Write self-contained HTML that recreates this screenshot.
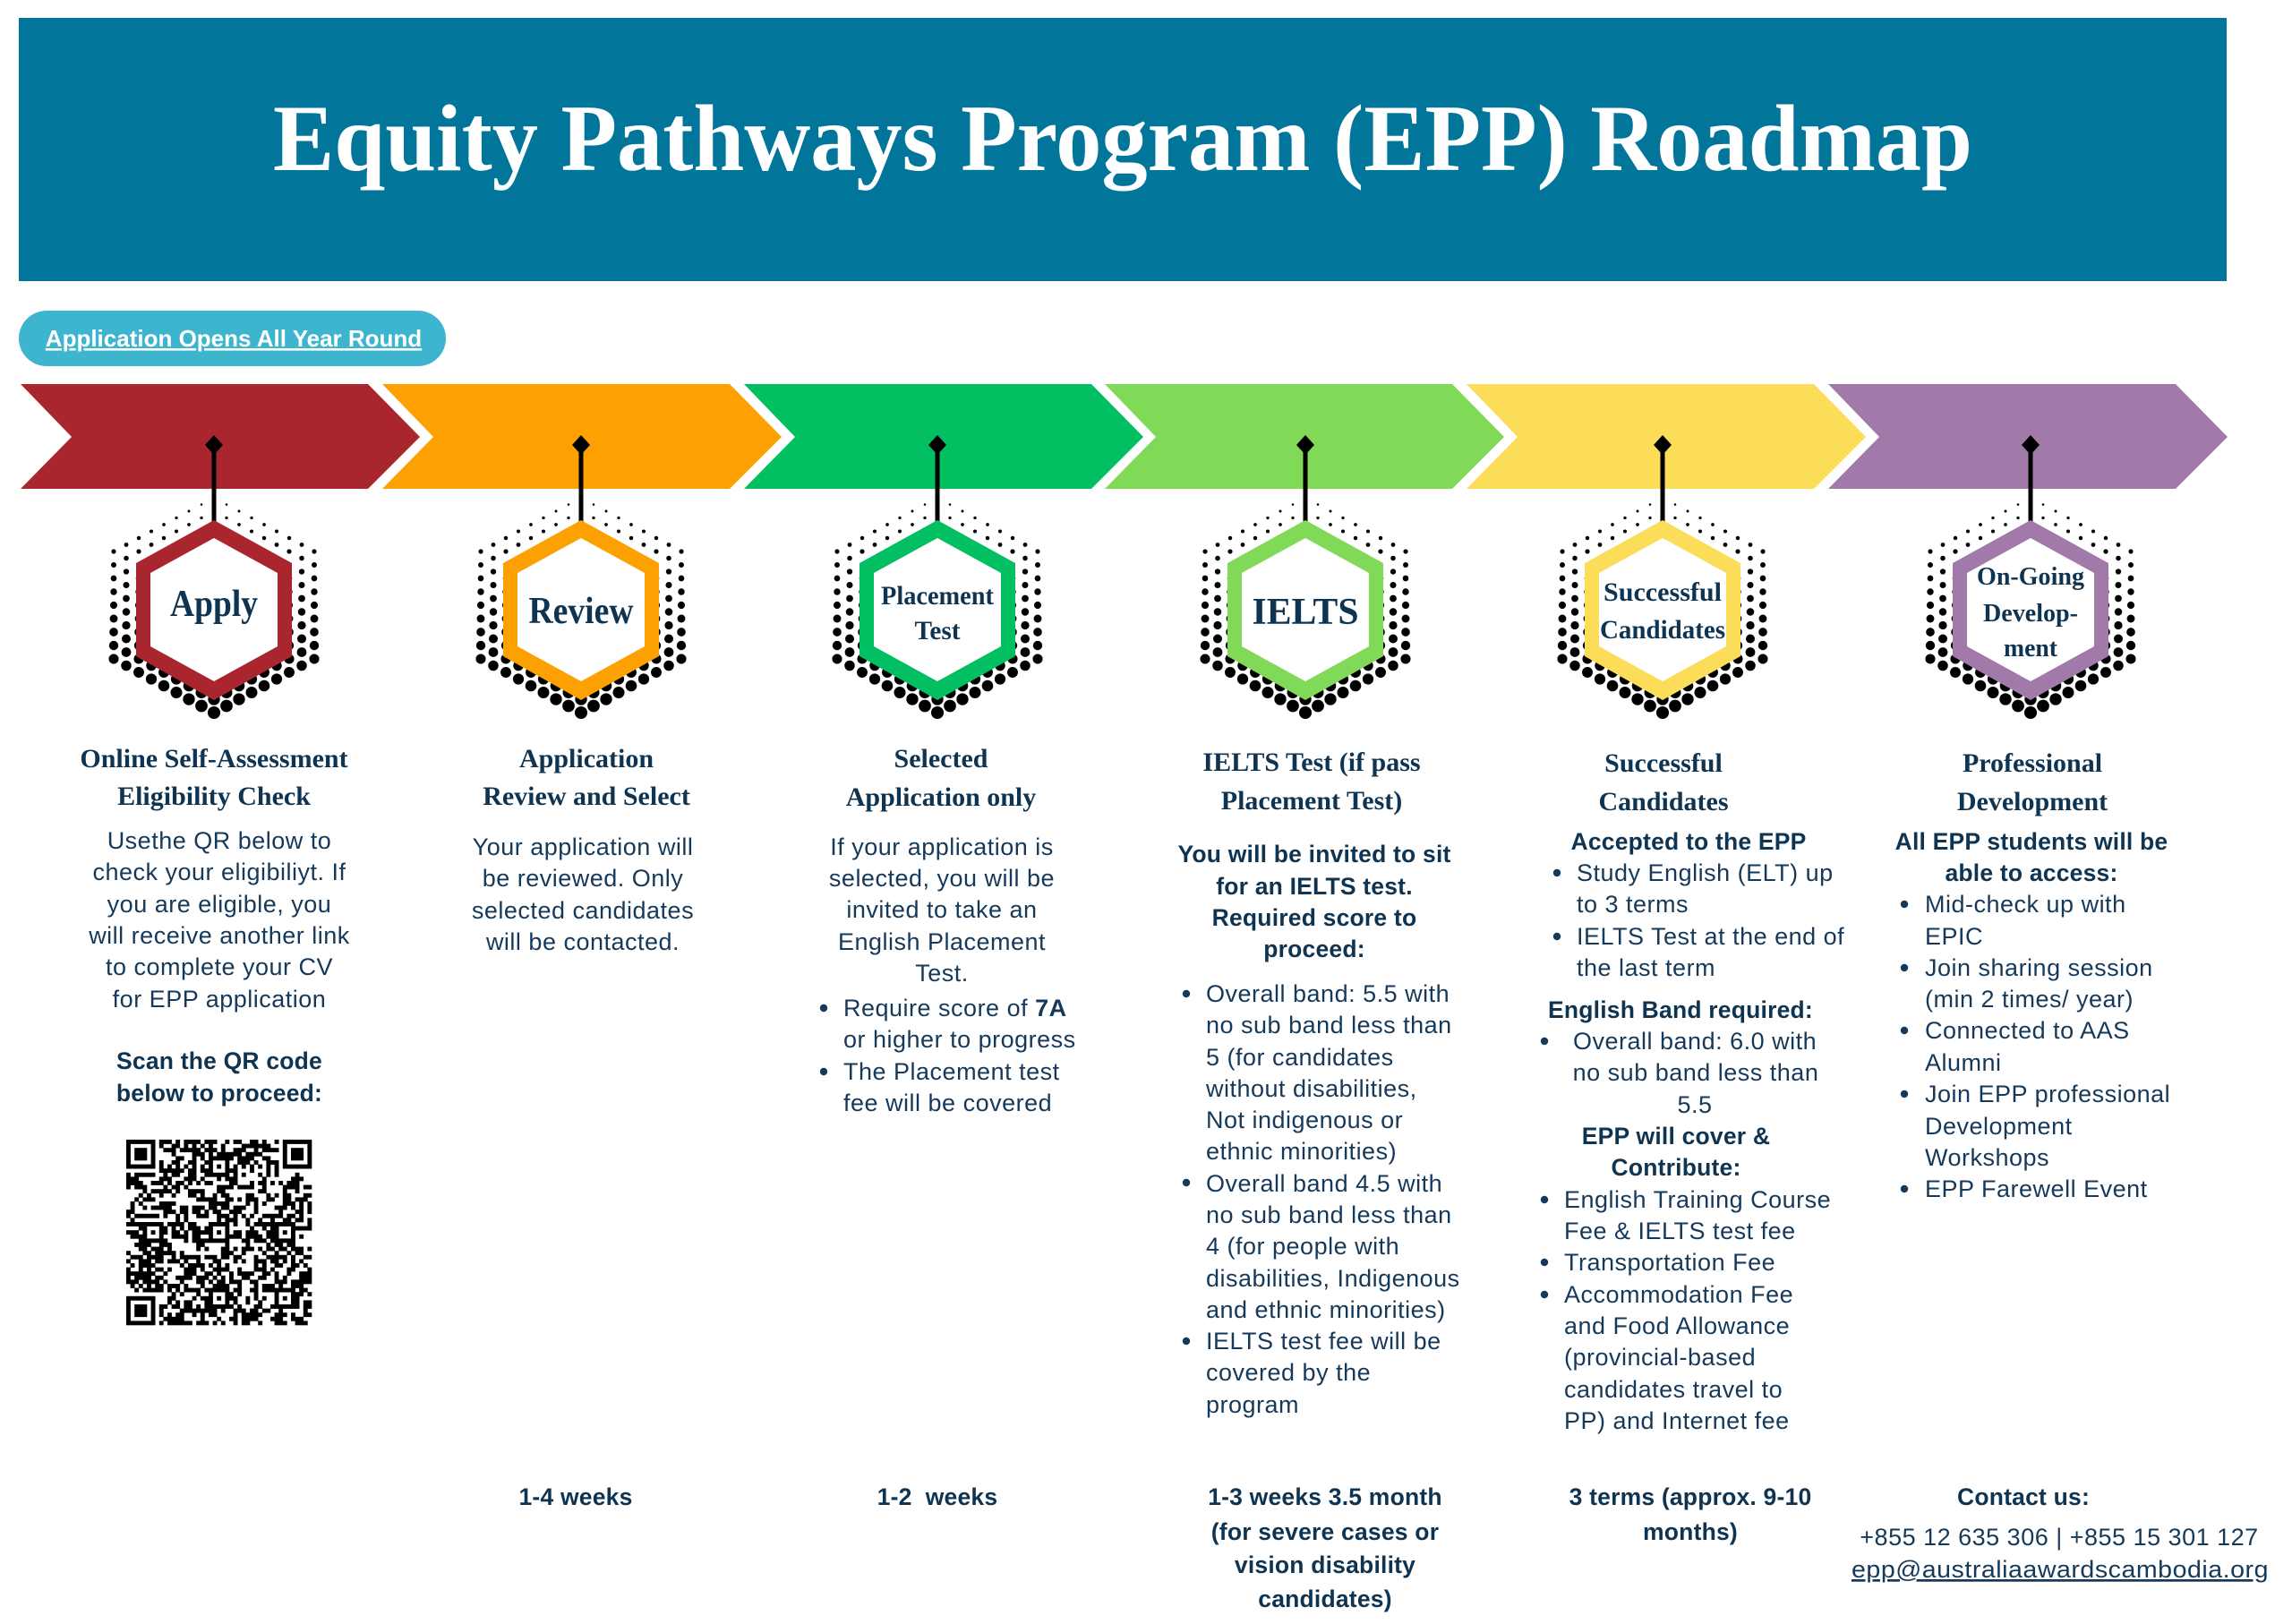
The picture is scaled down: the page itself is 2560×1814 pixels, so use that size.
<!DOCTYPE html>
<html><head><meta charset="utf-8"><title>EPP Roadmap</title>
<style>
html,body{margin:0;padding:0;background:#fff;}
svg{display:block;}
.h{font-family:"Liberation Serif",serif;font-weight:bold;font-size:30px;fill:#0e3452;text-anchor:middle;}
.hx{font-family:"Liberation Serif",serif;font-weight:bold;fill:#0e3452;text-anchor:middle;}
.b{font-family:"Liberation Sans",sans-serif;font-size:27px;fill:#15395a;letter-spacing:0.5px;}
.bb{font-family:"Liberation Sans",sans-serif;font-weight:bold;font-size:26.5px;fill:#0e3452;letter-spacing:0.2px;}
.m{text-anchor:middle;}
</style></head>
<body>
<svg xmlns="http://www.w3.org/2000/svg" width="2560" height="1814" viewBox="0 0 2560 1814">
<defs>
  <g id="halo"></g>
</defs>
<rect x="0" y="0" width="2560" height="1814" fill="#fff"/>
<!-- Banner -->
<rect x="21" y="20" width="2466" height="294" fill="#02769a"/>
<text x="1254" y="190" font-family="Liberation Serif, serif" font-weight="bold" font-size="106" fill="#fff" text-anchor="middle" textLength="1898" lengthAdjust="spacingAndGlyphs">Equity Pathways Program (EPP) Roadmap</text>

<!-- Pill -->
<rect x="21" y="347" width="477" height="62" rx="31" ry="31" fill="#3eb5ce"/>
<text x="261" y="387" font-family="Liberation Sans, sans-serif" font-weight="bold" font-size="26" fill="#fff" text-anchor="middle" text-decoration="underline">Application Opens All Year Round</text>

<!-- Chevrons -->
<polygon points="23,429 411,429 469,488 411,546 23,546 80,488" fill="#a9262f"/>
<polygon points="427,429 815,429 873,488 815,546 427,546 484,488" fill="#fda102"/>
<polygon points="831,429 1219,429 1277,488 1219,546 831,546 888,488" fill="#02bf62"/>
<polygon points="1234,429 1622,429 1680,488 1622,546 1234,546 1291,488" fill="#80d957"/>
<polygon points="1638,429 2026,429 2084,488 2026,546 1638,546 1695,488" fill="#fcdd5a"/>
<polygon points="2042,429 2430,429 2488,488 2430,546 2042,546 2099,488" fill="#a27aaa"/>

<!-- Hex nodes -->
<g id="nodes"></g>

<!-- Column 1 -->
<text class="h" x="239" y="857">Online Self-Assessment</text>
<text class="h" x="239" y="899">Eligibility Check</text>
<text class="b m" x="245" y="948">Usethe QR below to</text>
<text class="b m" x="245" y="983">check your eligibiliyt. If</text>
<text class="b m" x="245" y="1019">you are eligible, you</text>
<text class="b m" x="245" y="1054">will receive another link</text>
<text class="b m" x="245" y="1089">to complete your CV</text>
<text class="b m" x="245" y="1125">for EPP application</text>
<text class="bb m" x="245" y="1194">Scan the QR code</text>
<text class="bb m" x="245" y="1230">below to proceed:</text>
<g id="qr"></g>

<!-- Column 2 -->
<text class="h" x="655" y="857">Application</text>
<text class="h" x="655" y="899">Review and Select</text>
<text class="b m" x="651" y="955">Your application will</text>
<text class="b m" x="651" y="990">be reviewed. Only</text>
<text class="b m" x="651" y="1026">selected candidates</text>
<text class="b m" x="651" y="1061">will be contacted.</text>

<!-- Column 3 -->
<text class="h" x="1051" y="857">Selected</text>
<text class="h" x="1051" y="900">Application only</text>
<text class="b m" x="1052" y="955">If your application is</text>
<text class="b m" x="1052" y="990">selected, you will be</text>
<text class="b m" x="1052" y="1025">invited to take an</text>
<text class="b m" x="1052" y="1061">English Placement</text>
<text class="b m" x="1052" y="1096">Test.</text>
<circle cx="920" cy="1126" r="4.2" fill="#15395a"/>
<text class="b" x="942" y="1135">Require score of <tspan font-weight="bold">7A</tspan></text>
<text class="b" x="942" y="1170">or higher to progress</text>
<circle cx="920" cy="1197" r="4.2" fill="#15395a"/>
<text class="b" x="942" y="1206">The Placement test</text>
<text class="b" x="942" y="1241">fee will be covered</text>

<!-- Column 4 -->
<text class="h" x="1465" y="861">IELTS Test (if pass</text>
<text class="h" x="1465" y="904">Placement Test)</text>
<text class="bb m" x="1468" y="963">You will be invited to sit</text>
<text class="bb m" x="1468" y="999">for an IELTS test.</text>
<text class="bb m" x="1468" y="1034">Required score to</text>
<text class="bb m" x="1468" y="1069">proceed:</text>
<circle cx="1325" cy="1110" r="4.2" fill="#15395a"/>
<text class="b" x="1347" y="1119">Overall band: 5.5 with</text>
<text class="b" x="1347" y="1154">no sub band less than</text>
<text class="b" x="1347" y="1190">5 (for candidates</text>
<text class="b" x="1347" y="1225">without disabilities,</text>
<text class="b" x="1347" y="1260">Not indigenous or</text>
<text class="b" x="1347" y="1295">ethnic minorities)</text>
<circle cx="1325" cy="1321" r="4.2" fill="#15395a"/>
<text class="b" x="1347" y="1331">Overall band 4.5 with</text>
<text class="b" x="1347" y="1366">no sub band less than</text>
<text class="b" x="1347" y="1401">4 (for people with</text>
<text class="b" x="1347" y="1437">disabilities, Indigenous</text>
<text class="b" x="1347" y="1472">and ethnic minorities)</text>
<circle cx="1325" cy="1498" r="4.2" fill="#15395a"/>
<text class="b" x="1347" y="1507">IELTS test fee will be</text>
<text class="b" x="1347" y="1542">covered by the</text>
<text class="b" x="1347" y="1578">program</text>

<!-- Column 5 -->
<text class="h" x="1858" y="862">Successful</text>
<text class="h" x="1858" y="905">Candidates</text>
<text class="bb m" x="1886" y="949">Accepted to the EPP</text>
<circle cx="1739" cy="975" r="4.2" fill="#15395a"/>
<text class="b" x="1761" y="984">Study English (ELT) up</text>
<text class="b" x="1761" y="1019">to 3 terms</text>
<circle cx="1739" cy="1046" r="4.2" fill="#15395a"/>
<text class="b" x="1761" y="1055">IELTS Test at the end of</text>
<text class="b" x="1761" y="1090">the last term</text>
<text class="bb" x="1729" y="1137">English Band required:</text>
<circle cx="1725" cy="1163" r="4.2" fill="#15395a"/>
<text class="b" x="1757" y="1172">Overall band: 6.0 with</text>
<text class="b m" x="1894" y="1207">no sub band less than</text>
<text class="b m" x="1893" y="1243">5.5</text>
<text class="bb m" x="1872" y="1278">EPP will cover &amp;</text>
<text class="bb m" x="1872" y="1313">Contribute:</text>
<circle cx="1725" cy="1340" r="4.2" fill="#15395a"/>
<text class="b" x="1747" y="1349">English Training Course</text>
<text class="b" x="1747" y="1384">Fee &amp; IELTS test fee</text>
<circle cx="1725" cy="1410" r="4.2" fill="#15395a"/>
<text class="b" x="1747" y="1419">Transportation Fee</text>
<circle cx="1725" cy="1446" r="4.2" fill="#15395a"/>
<text class="b" x="1747" y="1455">Accommodation Fee</text>
<text class="b" x="1747" y="1490">and Food Allowance</text>
<text class="b" x="1747" y="1525">(provincial-based</text>
<text class="b" x="1747" y="1561">candidates travel to</text>
<text class="b" x="1747" y="1596">PP) and Internet fee</text>

<!-- Column 6 -->
<text class="h" x="2270" y="862">Professional</text>
<text class="h" x="2270" y="905">Development</text>
<text class="bb m" x="2269" y="949">All EPP students will be</text>
<text class="bb m" x="2269" y="984">able to access:</text>
<circle cx="2127" cy="1010" r="4.2" fill="#15395a"/>
<text class="b" x="2150" y="1019">Mid-check up with</text>
<text class="b" x="2150" y="1055">EPIC</text>
<circle cx="2127" cy="1081" r="4.2" fill="#15395a"/>
<text class="b" x="2150" y="1090">Join sharing session</text>
<text class="b" x="2150" y="1125">(min 2 times/ year)</text>
<circle cx="2127" cy="1151" r="4.2" fill="#15395a"/>
<text class="b" x="2150" y="1160">Connected to AAS</text>
<text class="b" x="2150" y="1196">Alumni</text>
<circle cx="2127" cy="1222" r="4.2" fill="#15395a"/>
<text class="b" x="2150" y="1231">Join EPP professional</text>
<text class="b" x="2150" y="1267">Development</text>
<text class="b" x="2150" y="1302">Workshops</text>
<circle cx="2127" cy="1328" r="4.2" fill="#15395a"/>
<text class="b" x="2150" y="1337">EPP Farewell Event</text>

<!-- Bottom durations -->
<text class="bb m" x="643" y="1681">1-4 weeks</text>
<text class="bb m" x="1047" y="1681">1-2&#160; weeks</text>
<text class="bb m" x="1480" y="1681">1-3 weeks 3.5 month</text>
<text class="bb m" x="1480" y="1720">(for severe cases or</text>
<text class="bb m" x="1480" y="1757">vision disability</text>
<text class="bb m" x="1480" y="1795">candidates)</text>
<text class="bb m" x="1888" y="1681">3 terms (approx. 9-10</text>
<text class="bb m" x="1888" y="1720">months)</text>
<text class="bb m" x="2260" y="1681">Contact us:</text>
<text class="b m" x="2300" y="1726">+855 12 635 306 | +855 15 301 127</text>
<text class="b m" x="2301" y="1762" text-decoration="underline" textLength="466" lengthAdjust="spacingAndGlyphs">epp@australiaawardscambodia.org</text>
</svg>

<script>
(function(){
  var halo = document.getElementById('halo');
  function inHalo(x,y){
    var ax=Math.abs(x);
    if(ax>114) return false;
    var topY = 556 + (617-556)*ax/114;
    var botY = 806 - (806-742)*ax/114;
    return y>=topY && y<=botY;
  }
  var s='';
  for(var col=-8; col<=8; col++){
    var x=col*14;
    var off=(Math.abs(col)%2===1)?7.5:0;
    for(var y=556+off; y<=812; y+=15){
      if(!inHalo(x,y)) continue;
      var t=(y-556)/250;
      var r=Math.min(7.3, 1.1+6.2*t);
      s+='<circle cx="'+x+'" cy="'+y.toFixed(1)+'" r="'+r.toFixed(2)+'"/>';
    }
  }
  halo.innerHTML=s;

  var nodes=[
    {c:239, col:'#a9262f', lines:[{t:'Apply',y:688,fs:42,w:98}]},
    {c:649, col:'#fda102', lines:[{t:'Review',y:696,fs:42,w:117}]},
    {c:1047,col:'#02bf62', lines:[{t:'Placement',y:675,fs:30,w:126},{t:'Test',y:714,fs:30,w:51}]},
    {c:1458,col:'#80d957', lines:[{t:'IELTS',y:697,fs:42,w:119}]},
    {c:1857,col:'#fcdd5a', lines:[{t:'Successful',y:671,fs:30,w:132},{t:'Candidates',y:713,fs:30,w:140}]},
    {c:2268,col:'#a27aaa', lines:[{t:'On-Going',y:653,fs:28,w:120},{t:'Develop-',y:694,fs:28,w:106},{t:'ment',y:733,fs:28,w:60}]}
  ];
  var g='';
  nodes.forEach(function(n){
    var c=n.c;
    g+='<line x1="'+c+'" y1="497" x2="'+c+'" y2="584" stroke="#000" stroke-width="5"/>';
    g+='<polygon points="'+c+',486 '+(c+10)+',497 '+c+',508 '+(c-10)+',497" fill="#000"/>';
    g+='<g transform="translate('+c+',0)" fill="#000"><use href="#halo"/></g>';
    g+='<g transform="translate('+c+',0)">';
    g+='<polygon points="0,581 87,629 87,733 0,782 -87,733 -87,629" fill="'+n.col+'"/>';
    g+='<polygon points="0,601 71,640 71,722 0,761 -71,722 -71,640" fill="#fff"/>';
    g+='</g>';
    n.lines.forEach(function(l){
      g+='<text class="hx" x="'+c+'" y="'+l.y+'" font-size="'+l.fs+'" textLength="'+l.w+'" lengthAdjust="spacingAndGlyphs">'+l.t+'</text>';
    });
  });
  document.getElementById('nodes').innerHTML=g;

  // QR code
  var N=45, x0=141, y0=1273, m=207/N;
  var grid=[];
  var seed=987654;
  function rnd(){seed=(seed*1103515245+12345)%2147483648; return seed/2147483648;}
  for(var i=0;i<N;i++){grid[i]=[];for(var j=0;j<N;j++){grid[i][j]=rnd()<0.5?1:0;}}
  function finder(r0,c0){
    for(var i=-1;i<=7;i++)for(var j=-1;j<=7;j++){
      var r=r0+i,c=c0+j; if(r<0||c<0||r>=N||c>=N) continue;
      var v=0;
      if(i>=0&&i<=6&&j>=0&&j<=6){
        if(i===0||i===6||j===0||j===6) v=1;
        else if(i>=2&&i<=4&&j>=2&&j<=4) v=1;
      }
      grid[r][c]=v;
    }
  }
  finder(0,0); finder(0,N-7); finder(N-7,0);
  function align(r0,c0){
    for(var i=-2;i<=2;i++)for(var j=-2;j<=2;j++){
      var v=(Math.max(Math.abs(i),Math.abs(j))!==1)?1:0;
      grid[r0+i][c0+j]=v;
    }
  }
  align(22,22); align(38,38); align(22,38); align(38,22); align(6,22); align(22,6);
  for(var k=8;k<N-8;k++){grid[6][k]=k%2===0?1:0; grid[k][6]=k%2===0?1:0;}
  var q='';
  for(var i=0;i<N;i++)for(var j=0;j<N;j++){
    if(grid[i][j]) q+='<rect x="'+(x0+j*m).toFixed(2)+'" y="'+(y0+i*m).toFixed(2)+'" width="'+(m+0.3).toFixed(2)+'" height="'+(m+0.3).toFixed(2)+'"/>';
  }
  var qg=document.getElementById('qr');
  qg.setAttribute('fill','#000');
  qg.innerHTML=q;
})();
</script>
</body></html>
